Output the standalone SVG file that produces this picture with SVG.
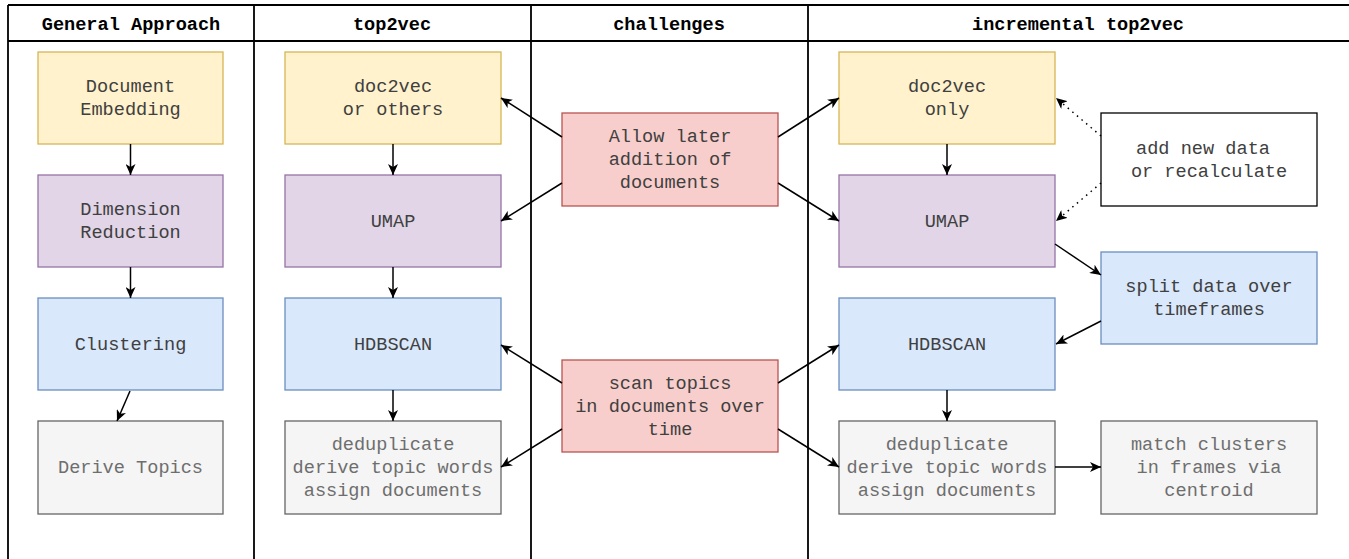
<svg xmlns="http://www.w3.org/2000/svg" width="1349" height="559" viewBox="0 0 1349 559">
<style>
text{font-family:"Liberation Mono","Courier New",monospace;font-size:18.6px;text-anchor:middle;dominant-baseline:central;fill:#404040}
.hd{font-weight:bold;fill:#000}
.y{fill:#fff2cc;stroke:#d6b656}
.p{fill:#e1d5e7;stroke:#9673a6}
.b{fill:#dae8fc;stroke:#6c8ebf}
.g{fill:#f5f5f5;stroke:#666}
.r{fill:#f8cecc;stroke:#b85450}
.w{fill:#fff;stroke:#000}
rect{stroke-width:1.3}
.gt{fill:#6e6e6e}
.c{stroke:#000;stroke-width:1.5;fill:none;marker-end:url(#ah)}
.d{stroke-dasharray:1.5 4.5}
.t{stroke:#000;stroke-width:1.8;fill:none}
</style>
<defs>
<marker id="ah" markerUnits="userSpaceOnUse" markerWidth="12" markerHeight="10" refX="11" refY="5" orient="auto" viewBox="0 0 12 10">
<path d="M0,0 L11,5 L0,10 L3,5 Z" fill="#000"/>
</marker>
</defs>
<rect width="1349" height="559" fill="#fff"/>
<g id="table">
<path class="t" d="M8,5 H1349 M8,41 H1349 M8,5 V559 M254,5 V559 M531,5 V559 M808,5 V559"/>
<text class="hd" x="131" y="25">General Approach</text>
<text class="hd" x="392" y="25">top2vec</text>
<text class="hd" x="669" y="25">challenges</text>
<text class="hd" x="1078" y="25">incremental top2vec</text>
</g>
<g id="ga-embed"><rect class="y" x="38" y="52" width="185" height="92"/><text x="130.5" y="87.5">Document</text><text x="130.5" y="110.5">Embedding</text></g>
<g id="ga-dim"><rect class="p" x="38" y="175" width="185" height="92"/><text x="130.5" y="210.5">Dimension</text><text x="130.5" y="233.5">Reduction</text></g>
<g id="ga-clust"><rect class="b" x="38" y="298" width="185" height="92"/><text x="130.5" y="345">Clustering</text></g>
<g id="ga-derive"><rect class="g" x="38" y="421" width="185" height="93"/><text class="gt" x="130.5" y="468.5">Derive Topics</text></g>
<g id="t2v-doc2vec"><rect class="y" x="285" y="52" width="216" height="92"/><text x="393" y="87.5">doc2vec</text><text x="393" y="110.5">or others</text></g>
<g id="t2v-umap"><rect class="p" x="285" y="175" width="216" height="92"/><text x="393" y="222">UMAP</text></g>
<g id="t2v-hdbscan"><rect class="b" x="285" y="298" width="216" height="92"/><text x="393" y="345">HDBSCAN</text></g>
<g id="t2v-dedup"><rect class="g" x="285" y="421" width="216" height="93"/><text class="gt" x="393" y="445.5">deduplicate</text><text class="gt" x="393" y="468.5">derive topic words</text><text class="gt" x="393" y="491.5">assign documents</text></g>
<g id="ch-allow"><rect class="r" x="562" y="113" width="216" height="93"/><text x="670" y="137.5">Allow later</text><text x="670" y="160.5">addition of</text><text x="670" y="183.5">documents</text></g>
<g id="ch-scan"><rect class="r" x="562" y="360" width="216" height="92"/><text x="670" y="384">scan topics</text><text x="670" y="407">in documents over</text><text x="670" y="430">time</text></g>
<g id="inc-doc2vec"><rect class="y" x="839" y="52" width="216" height="92"/><text x="947" y="87.5">doc2vec</text><text x="947" y="110.5">only</text></g>
<g id="inc-umap"><rect class="p" x="839" y="175" width="216" height="92"/><text x="947" y="222">UMAP</text></g>
<g id="inc-hdbscan"><rect class="b" x="839" y="298" width="216" height="92"/><text x="947" y="345">HDBSCAN</text></g>
<g id="inc-dedup"><rect class="g" x="839" y="421" width="216" height="93"/><text class="gt" x="947" y="445.5">deduplicate</text><text class="gt" x="947" y="468.5">derive topic words</text><text class="gt" x="947" y="491.5">assign documents</text></g>
<g id="inc-add"><rect class="w" x="1101" y="113" width="216" height="93"/><text x="1203" y="149">add new data</text><text x="1209" y="172">or recalculate</text></g>
<g id="inc-split"><rect class="b" x="1101" y="252" width="216" height="92"/><text x="1209" y="287.5">split data over</text><text x="1209" y="310.5">timeframes</text></g>
<g id="inc-match"><rect class="g" x="1101" y="421" width="216" height="93"/><text class="gt" x="1209" y="445.5">match clusters</text><text class="gt" x="1209" y="468.5">in frames via</text><text class="gt" x="1209" y="491.5">centroid</text></g>
<g id="connectors">
<path class="c" d="M130.5,144 V175"/>
<path class="c" d="M130.5,267 V298"/>
<path class="c" d="M130,391 L117,421"/>
<path class="c" d="M393,144 V175"/>
<path class="c" d="M393,267 V298"/>
<path class="c" d="M393,390 V421"/>
<path class="c" d="M947,144 V175"/>
<path class="c" d="M947,390 V421"/>
<path class="c" d="M562,137 L501,98"/>
<path class="c" d="M562,183 L501,221"/>
<path class="c" d="M778,137 L839,98"/>
<path class="c" d="M778,183 L839,221"/>
<path class="c" d="M562,383 L501,345"/>
<path class="c" d="M562,429 L501,467"/>
<path class="c" d="M778,383 L839,345"/>
<path class="c" d="M778,429 L839,467"/>
<path class="c d" d="M1101,136 L1056,98"/>
<path class="c d" d="M1101,183 L1056,221"/>
<path class="c" d="M1055,244 L1101,275"/>
<path class="c" d="M1101,321 L1056,344"/>
<path class="c" d="M1055,467 H1101"/>
</g>
</svg>
